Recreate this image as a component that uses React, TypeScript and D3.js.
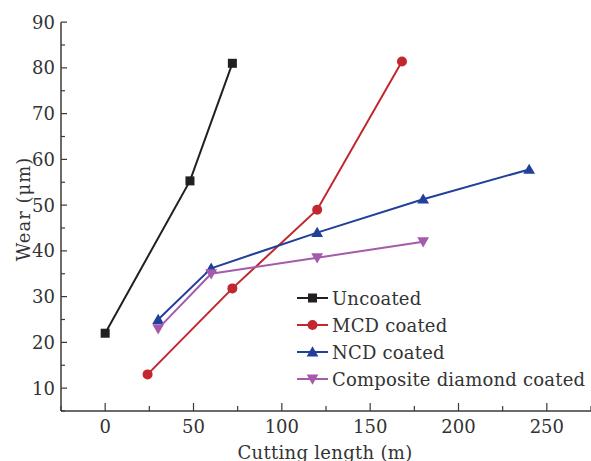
import React from 'react';
import * as d3 from 'd3';

const seriesNames = ['Uncoated', 'MCD coated', 'NCD coated', 'Composite diamond coated'];
const seriesColors = ['#231f20', '#c1272d', '#21409a', '#a65aaa'];
const seriesShapes = ['square', 'circle', 'triangle', 'triangleDown'];

const uncoatedX = [0, 48, 72];
const uncoatedY = [22, 55.3, 81];
const mcdX = [24, 72, 120, 168];
const mcdY = [13, 31.8, 49, 81.4];
const ncdX = [30, 60, 120, 180, 240];
const ncdY = [25, 36.2, 44, 51.3, 57.8];
const compositeX = [30, 60, 120, 180];
const compositeY = [23, 35, 38.5, 42];

const xTicks = [0, 50, 100, 150, 200, 250];
const yTicks = [10, 20, 30, 40, 50, 60, 70, 80, 90];

const App = () => {
    const width = 591, height = 461;
    const fontStyle = { fontFamily: "'DejaVu Serif', serif" };

    // plot box: x from 61 to 590, y from 411 (5) to 22 (90)
    const x = d3.scaleLinear().domain([-25, 275]).range([61, 591]);
    const y = d3.scaleLinear().domain([5, 90]).range([411, 411 - 85 * (366 / 80)]);

    const xs = [uncoatedX, mcdX, ncdX, compositeX];
    const ys = [uncoatedY, mcdY, ncdY, compositeY];

    const line = d3.line<[number, number]>().x(d => x(d[0])).y(d => y(d[1]));

    const marker = (shape: string, cx: number, cy: number, color: string, key: any) => {
        if (shape === 'square') {
            return <rect key={key} x={cx - 4.5} y={cy - 4.5} width={9} height={9} fill={color} />;
        }
        if (shape === 'circle') {
            return <circle key={key} cx={cx} cy={cy} r={5} fill={color} />;
        }
        const sym = d3.symbol().type(d3.symbolTriangle).size(60)();
        const rot = shape === 'triangleDown' ? 180 : 0;
        return <path key={key} d={sym || ''} fill={color}
            transform={`translate(${cx},${cy + (rot ? -1 : 1)}) rotate(${rot})`} />;
    };

    const xMinor = d3.range(-25, 276, 25);
    const yMinor = d3.range(5, 91, 5);
    const axisColor = '#3a3a3a';
    const textColor = '#333';
    const bottom = y(5);
    const left = x(-25);

    return (
        <svg width={width} height={height} style={{ position: 'absolute', left: 0, top: 0, ...fontStyle }}>
            {/* axes */}
            <line x1={left} x2={x(275)} y1={bottom} y2={bottom} stroke={axisColor} strokeWidth={1.5} />
            <line x1={left} x2={left} y1={y(90)} y2={bottom} stroke={axisColor} strokeWidth={1.5} />
            {xMinor.map((t, i) => (
                <line key={'xm' + i} x1={x(t)} x2={x(t)} y1={bottom}
                    y2={bottom - (t % 50 === 0 ? 8 : 5)} stroke={axisColor} strokeWidth={1.2} />
            ))}
            {yMinor.map((t, i) => (
                <line key={'ym' + i} x1={left} x2={left + (t % 10 === 0 ? 6 : 4)}
                    y1={y(t)} y2={y(t)} stroke={axisColor} strokeWidth={1.2} />
            ))}
            {xTicks.map(t => (
                <text key={'xt' + t} x={x(t)} y={433} textAnchor="middle"
                    style={{ ...fontStyle, fontSize: '18px' }} fill={textColor}>{t}</text>
            ))}
            {yTicks.map(t => (
                <text key={'yt' + t} x={left - 6} y={y(t) + 6.5} textAnchor="end"
                    style={{ ...fontStyle, fontSize: '18px' }} fill={textColor}>{t}</text>
            ))}
            <text x={325} y={459} textAnchor="middle" style={{ ...fontStyle, fontSize: '18px', letterSpacing: '0.3px' }}
                fill={textColor}>Cutting length (m)</text>
            <text transform={`translate(30,209) rotate(-90)`} textAnchor="middle"
                style={{ ...fontStyle, fontSize: '18px', letterSpacing: '1px' }} fill={textColor}>Wear (μm)</text>

            {/* series */}
            {xs.map((sx, s) => {
                const pts = sx.map((v, i) => [v, ys[s][i]] as [number, number]);
                return (
                    <g key={'s' + s}>
                        <path d={line(pts) || ''} fill="none" stroke={seriesColors[s]} strokeWidth={2} />
                        {pts.map((p, i) => marker(seriesShapes[s], x(p[0]), y(p[1]), seriesColors[s], i))}
                    </g>
                );
            })}

            {/* legend */}
            {seriesNames.map((name, i) => {
                const ly = 298 + i * 27;
                return (
                    <g key={'lg' + i}>
                        <line x1={297} x2={328} y1={ly} y2={ly} stroke={seriesColors[i]} strokeWidth={2} />
                        {marker(seriesShapes[i], 312.5, ly, seriesColors[i], 'm')}
                        <text x={332} y={ly + 6.5} style={{ ...fontStyle, fontSize: '18px', letterSpacing: '0.2px' }}
                            fill={textColor}>{name}</text>
                    </g>
                );
            })}
        </svg>
    );
};

export default App;
